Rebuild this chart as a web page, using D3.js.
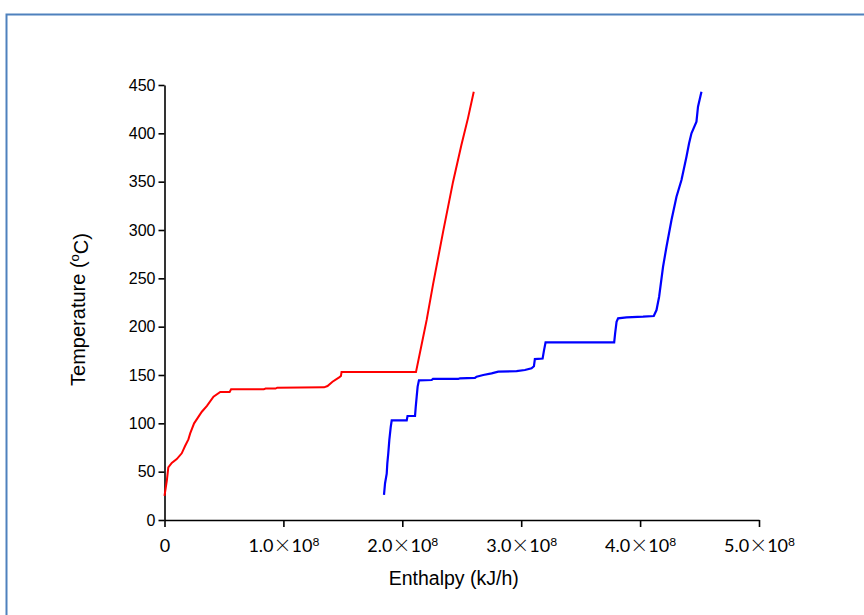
<!DOCTYPE html>
<html>
<head>
<meta charset="utf-8">
<script src="https://cdn.jsdelivr.net/npm/d3@7"></script>
<style>
	body { margin: 0; background: #fff; }
	.chart text { fill: #000; }
</style>
</head>
<body>
<div class="chart composite-curve"></div>
<script>
// enthalpy in units of 1e8 kJ/h, temperature in degC
const hotEnthalpy = [0, 0.02, 0.032, 0.061, 0.103, 0.145, 0.173, 0.201, 0.216, 0.249, 0.314, 0.357, 0.412, 0.469, 0.548, 0.56, 0.835, 0.85, 0.934, 0.948, 1.342, 1.371, 1.413, 1.469, 1.484, 1.489, 2.115, 2.16, 2.205, 2.259, 2.343, 2.427, 2.497, 2.553, 2.601];
const hotTemp = [25, 41, 54.5, 59, 63, 69, 76.5, 83.4, 89.6, 100, 112, 118, 127.6, 132.4, 132.4, 135.2, 135.2, 136, 136, 136.9, 137.2, 138.6, 143, 147.6, 149, 153, 153, 180, 207, 244, 298, 350, 388, 416, 443];

const coldEnthalpy = [1.846, 1.855, 1.869, 1.874, 1.882, 1.891, 1.903, 1.911, 2.037, 2.044, 2.107, 2.113, 2.121, 2.129, 2.14, 2.247, 2.258, 2.471, 2.485, 2.611, 2.625, 2.681, 2.751, 2.807, 2.961, 3.031, 3.087, 3.107, 3.115, 3.18, 3.191, 3.205, 3.782, 3.79, 3.802, 3.815, 3.886, 4.025, 4.115, 4.138, 4.16, 4.193, 4.222, 4.264, 4.306, 4.348, 4.39, 4.412, 4.432, 4.474, 4.487, 4.516];
const coldTemp = [26, 38, 48, 58.6, 69, 82.8, 96.5, 103, 103, 107.6, 107.6, 117, 127.6, 138, 144.5, 144.8, 145.9, 145.9, 146.6, 147, 148.3, 150, 151.7, 153.4, 154.1, 155.2, 156.9, 159, 166.5, 167, 175, 183.8, 183.8, 193, 205, 208.6, 209.7, 210.3, 211, 217.2, 231, 262, 282.7, 310.3, 334.4, 351.7, 375.8, 389.7, 400, 412, 427.5, 443];

const xTicks = [0, 1, 2, 3, 4, 5];
const xTickLabels = ["0", "1.0", "2.0", "3.0", "4.0", "5.0"];
const yTicks = [0, 50, 100, 150, 200, 250, 300, 350, 400, 450];

const margin = { top: 85, right: 105, left: 164.5, bottom: 95 };
const width = 864 - margin.left - margin.right;
const height = 615 - margin.top - margin.bottom;

const svg = d3
	.select(".composite-curve")
	.append("svg")
	.attr("width", 864)
	.attr("height", 615);

// frame around the figure
svg.append("rect")
	.attr("x", 6.5)
	.attr("y", 14.5)
	.attr("width", 900)
	.attr("height", 700)
	.attr("fill", "none")
	.attr("stroke", "#4f81bd")
	.attr("stroke-width", 2);

const g = svg
	.append("g")
	.attr("transform", `translate(${margin.left},${margin.top})`);

const xScale = d3.scaleLinear().domain([0, 5]).range([0, width]);
const yScale = d3.scaleLinear().domain([0, 450]).range([height, 0]);

const xAxis = g
	.append("g")
	.attr("transform", `translate(0,${height})`)
	.call(d3.axisBottom(xScale).tickValues(xTicks).tickSize(7).tickSizeOuter(0).tickPadding(12));

xAxis.selectAll(".tick text")
	.text(null)
	.style("font-family", "Lato, 'Open Sans', sans-serif")
	.style("font-size", "18px")
	.each(function (d, i) {
		const t = d3.select(this);
		if (d === 0) {
			t.text(xTickLabels[i]);
			return;
		}
		t.append("tspan").text(xTickLabels[i]);
		t.append("tspan")
			.style("font-family", "'Noto Sans CJK SC', sans-serif")
			.style("font-weight", 300)
			.text("\u00d7");
		t.append("tspan").text("10");
		t.append("tspan").attr("dy", "-0.45em").style("font-size", "12px").text("8");
	});

const yAxis = g
	.append("g")
	.call(d3.axisLeft(yScale).tickValues(yTicks).tickSize(6).tickSizeOuter(0).tickPadding(3));

yAxis.selectAll(".tick text")
	.style("font-family", "'Liberation Sans', Arial, sans-serif")
	.style("font-size", "16px");

g.selectAll(".domain, .tick line")
	.attr("stroke", "#000")
	.attr("stroke-width", 1.6);

const line = d3
	.line()
	.x((d) => xScale(d[0]))
	.y((d) => yScale(d[1]));

const hot = hotEnthalpy.map((h, i) => [h, hotTemp[i]]);
const cold = coldEnthalpy.map((h, i) => [h, coldTemp[i]]);

g.append("path")
	.datum(hot)
	.attr("fill", "none")
	.attr("stroke", "#ff0000")
	.attr("stroke-width", 2)
	.attr("d", line);

g.append("path")
	.datum(cold)
	.attr("fill", "none")
	.attr("stroke", "#0000ff")
	.attr("stroke-width", 2.2)
	.attr("d", line);

// axis titles
g.append("text")
	.attr("x", width / 2 - 8)
	.attr("y", height + 65)
	.attr("text-anchor", "middle")
	.style("font-family", "'Liberation Sans', Arial, sans-serif")
	.style("font-size", "19.5px")
	.text("Enthalpy (kJ/h)");

const yTitle = g
	.append("text")
	.attr("transform", `translate(${-80},${height / 2 + 7}) rotate(-90)`)
	.attr("text-anchor", "middle")
	.style("font-family", "'Liberation Sans', Arial, sans-serif")
	.style("font-size", "20px");
yTitle.append("tspan").text("Temperature (");
yTitle.append("tspan").attr("dy", "-0.45em").style("font-size", "13px").text("o");
yTitle.append("tspan").attr("dy", "0.45em").text("C)");
</script>
</body>
</html>
